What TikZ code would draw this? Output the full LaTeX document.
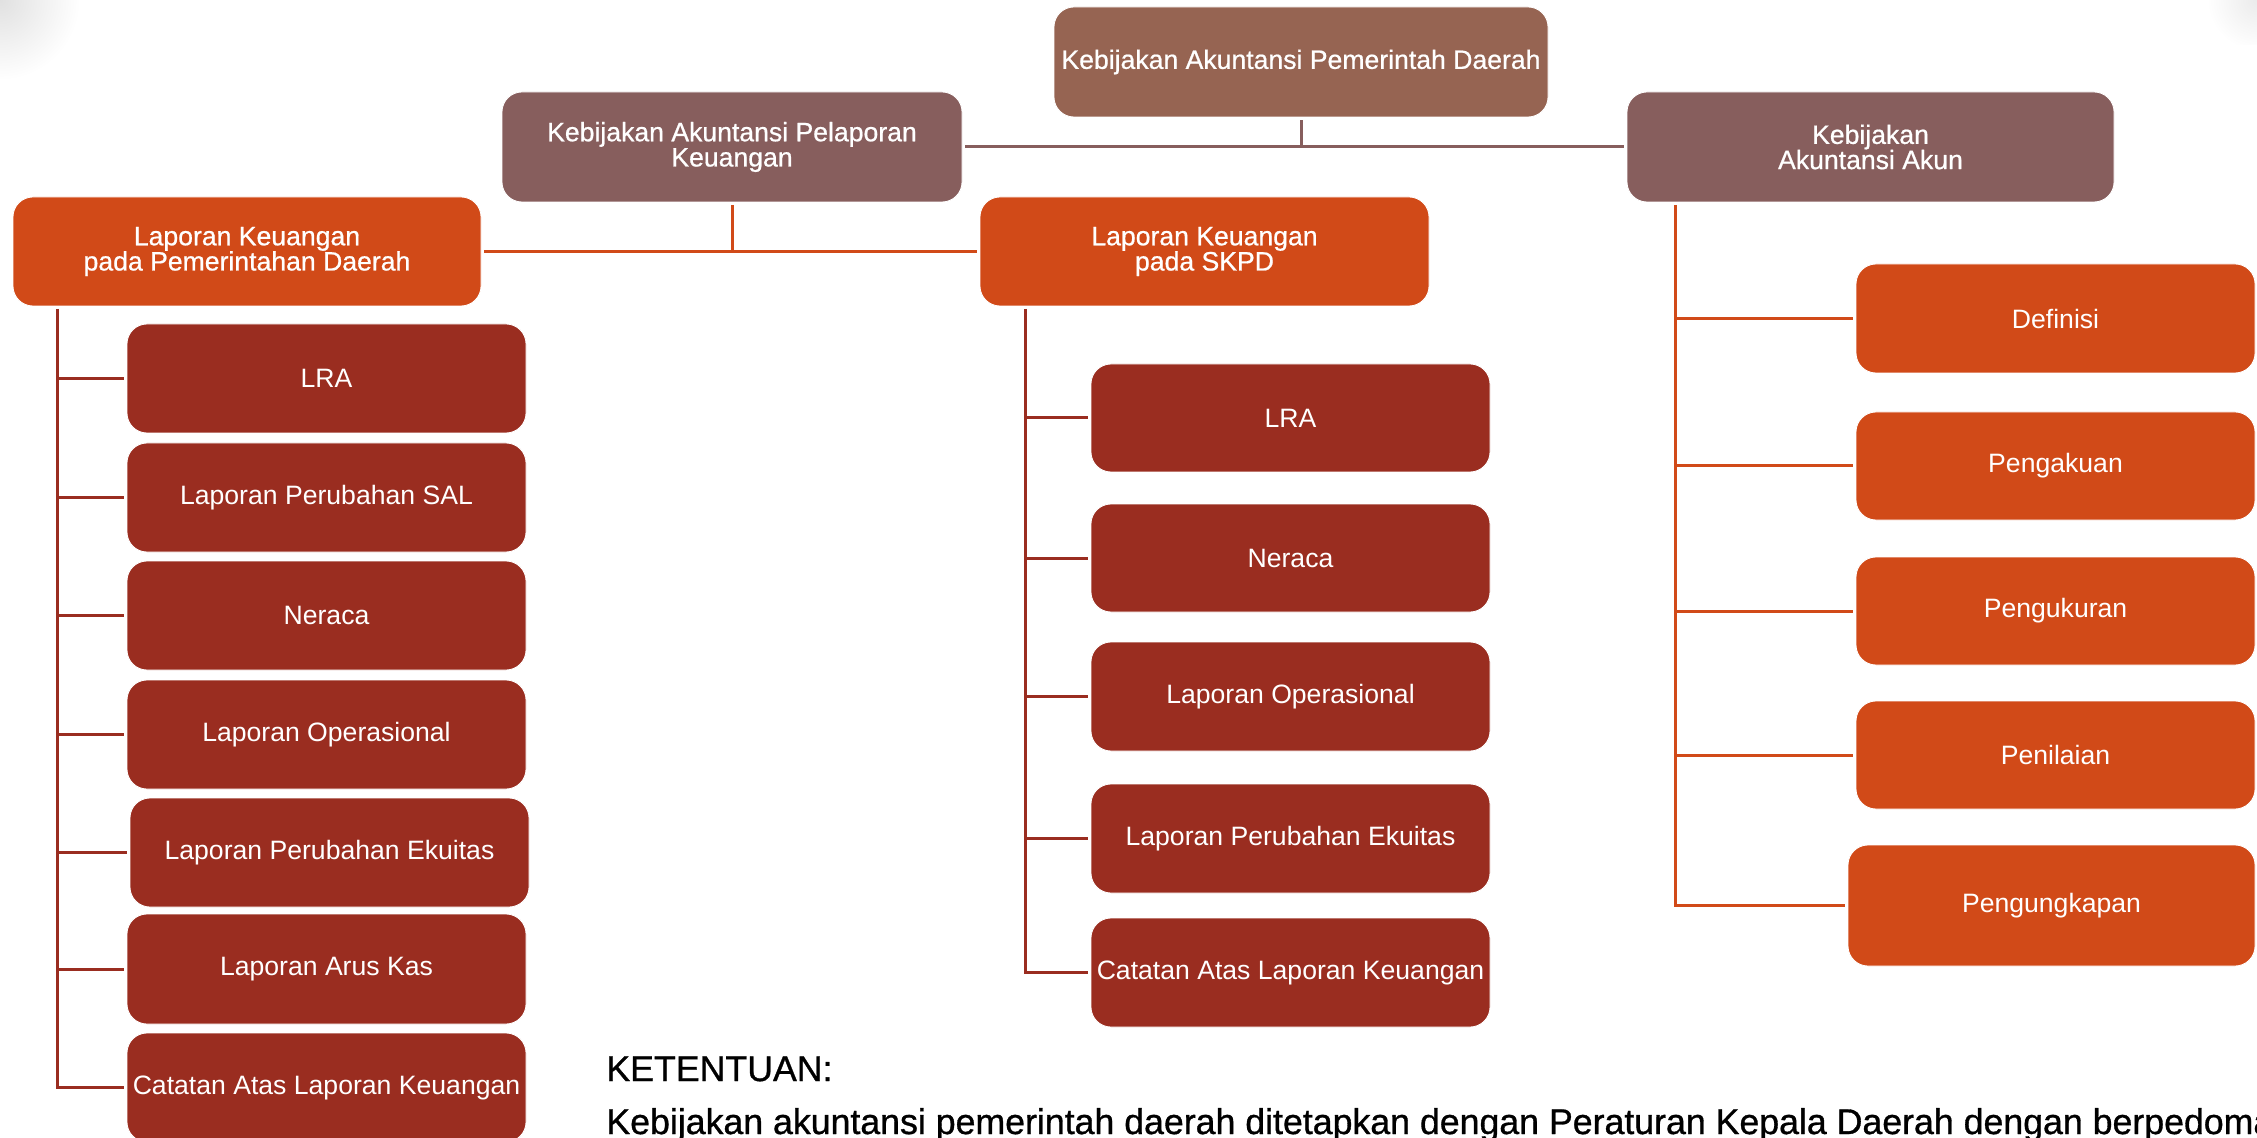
\documentclass[tikz,border=0pt]{standalone}
\usepackage{fontspec}
\setmainfont{Liberation Sans}
\newfontfamily\headfont[FakeBold=0.7]{Liberation Sans}
\newfontfamily\notefont[FakeBold=0.9]{Liberation Sans}
\definecolor{topc}{HTML}{966452}
\definecolor{midc}{HTML}{875E5D}
\definecolor{orangec}{HTML}{D14A18}
\definecolor{darkredc}{HTML}{9A2D20}
\tikzset{
  box/.style={rounded corners=10pt, draw=white, line width=0.4pt, text=white, inner sep=0pt, align=center,
    font=\fontsize{13.3}{13.3}\selectfont},
  headbox/.style={box, font=\headfont\fontsize{13.3}{12.6}\selectfont},
  topbox/.style={headbox, fill=topc},
  midbox/.style={headbox, fill=midc},
  orhead/.style={headbox, fill=orangec},
  redbox/.style={box, fill=darkredc},
  orbox/.style={box, fill=orangec},
  conn/.style={line width=1.5pt},
  brownconn/.style={conn, draw=midc},
  orconn/.style={conn, draw=orangec},
  redconn/.style={conn, draw=darkredc},
  notetext/.style={anchor=base west, inner sep=0pt, font=\notefont\fontsize{17.85}{18}\selectfont, text=black},
}
\newcommand\pbox[7]{\node[#2, minimum width={(#5-#3)*0.5pt}, minimum height={(#6-#4)*0.5pt}] (#1) at ({(#3+#5)/2},{(#4+#6)/2}) {#7};}
\begin{document}
\begin{tikzpicture}[x=0.5pt, y=-0.5pt]
\useasboundingbox (0,0) rectangle (2257,1138);
\fill[white] (0,0) rectangle (2257,1138);
% faint corner shading
\begin{scope}
  \clip (0,0) rectangle (80,80);
  \shade[inner color=black!12, outer color=white] (0,0) circle (80);
\end{scope}
\begin{scope}
  \clip (2200,0) rectangle (2257,45);
  \shade[inner color=black!8, outer color=white] (2257,0) circle (50);
\end{scope}

% top level
\pbox{top}{topbox}{1054}{7}{1548}{117}{Kebijakan Akuntansi Pemerintah Daerah}
\pbox{kapk}{midbox}{502}{92}{962}{202}{Kebijakan Akuntansi Pelaporan\\Keuangan}
\pbox{kaa}{midbox}{1627}{92}{2114}{202}{Kebijakan\\Akuntansi Akun}
\pbox{lkpd}{orhead}{13}{197}{481}{306}{Laporan Keuangan\\pada Pemerintahan Daerah}
\pbox{lkskpd}{orhead}{980}{197}{1429}{306}{Laporan Keuangan\\pada SKPD}

% left children
\pbox{l1}{redbox}{127}{324}{526}{433}{LRA}
\pbox{l2}{redbox}{127}{443}{526}{552}{Laporan Perubahan SAL}
\pbox{l3}{redbox}{127}{561}{526}{670}{Neraca}
\pbox{l4}{redbox}{127}{680}{526}{789}{Laporan Operasional}
\pbox{l5}{redbox}{130}{798}{529}{907}{Laporan Perubahan Ekuitas}
\pbox{l6}{redbox}{127}{914}{526}{1024}{Laporan Arus Kas}
\pbox{l7}{redbox}{127}{1033}{526}{1142}{Catatan Atas Laporan Keuangan}

% middle children
\pbox{m1}{redbox}{1091}{364}{1490}{472}{LRA}
\pbox{m2}{redbox}{1091}{504}{1490}{612}{Neraca}
\pbox{m3}{redbox}{1091}{642}{1490}{751}{Laporan Operasional}
\pbox{m4}{redbox}{1091}{784}{1490}{893}{Laporan Perubahan Ekuitas}
\pbox{m5}{redbox}{1091}{918}{1490}{1027}{Catatan Atas Laporan Keuangan}

% right children
\pbox{r1}{orbox}{1856}{264}{2255}{373}{Definisi}
\pbox{r2}{orbox}{1856}{412}{2255}{520}{Pengakuan}
\pbox{r3}{orbox}{1856}{557}{2255}{665}{Pengukuran}
\pbox{r4}{orbox}{1856}{701}{2255}{809}{Penilaian}
\pbox{r5}{orbox}{1848}{845}{2255}{966}{Pengungkapan}

% connectors top level
\draw[brownconn, shorten <=1.5pt, shorten >=1.5pt] (kapk.east) -- (kaa.west);
\draw[brownconn, shorten <=1.5pt] (top.south) -- (top.south |- kapk.east);
\draw[orconn, shorten <=1.5pt, shorten >=1.5pt] (lkpd.east) -- (lkskpd.west);
\draw[orconn, shorten <=1.5pt] (kapk.south) -- (kapk.south |- lkpd.east);

% spines
\coordinate (ls) at (57,309);
\coordinate (ms) at (1025,309);
\coordinate (rs) at (1675,205);
\draw[redconn, shorten >=1.5pt] (ls) |- (l7.west);
\foreach \i in {1,...,6} {\draw[redconn, shorten >=1.5pt] (ls |- l\i.west) -- (l\i.west);}
\draw[redconn, shorten >=1.5pt] (ms) |- (m5.west);
\foreach \i in {1,...,4} {\draw[redconn, shorten >=1.5pt] (ms |- m\i.west) -- (m\i.west);}
\draw[orconn, shorten >=1.5pt] (rs) |- (r5.west);
\foreach \i in {1,...,4} {\draw[orconn, shorten >=1.5pt] (rs |- r\i.west) -- (r\i.west);}

% notes
\node[notetext] (ket) at (606,1081) {KETENTUAN:};
\node[notetext] (note) at (606,1134) {Kebijakan akuntansi pemerintah daerah ditetapkan dengan Peraturan Kepala Daerah dengan berpedoman};
\end{tikzpicture}
\end{document}
